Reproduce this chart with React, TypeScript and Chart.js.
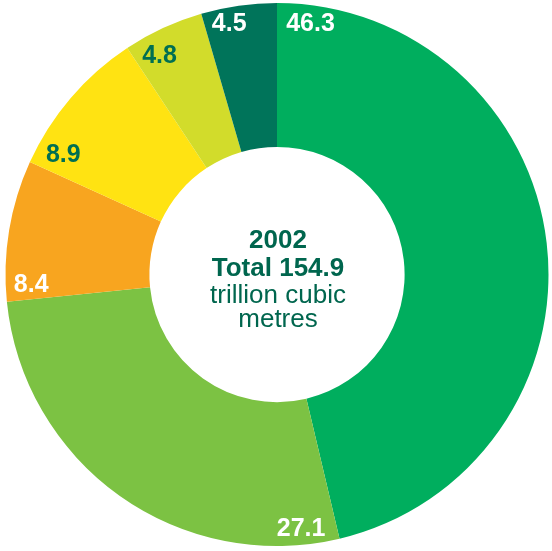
import React, { useEffect, useRef } from "react";
import { Chart, registerables } from "chart.js";

Chart.register(...registerables);

const categories = ["A", "B", "C", "D", "E", "F"];
const shares = [46.3, 27.1, 8.4, 8.9, 4.8, 4.5];
const labels = ["46.3", "27.1", "8.4", "8.9", "4.8", "4.5"];
const colors = ["#00ae5e", "#7cc243", "#f8a51f", "#ffe312", "#d2dc2b", "#00745a"];
const labelColors = ["#ffffff", "#ffffff", "#ffffff", "#006f52", "#006f52", "#ffffff"];
const centerLines = ["2002", "Total 154.9", "trillion cubic", "metres"];

// label placement: angular offset (deg) after segment start, radius (px)
const labelOffsetDeg = [7.6, 7.9, 3.4, 4.8, 5.2, 5.4];
const labelRadius = [253, 255.6, 246, 245, 248, 255];

const labelPlugin = {
  id: "segLabels",
  afterDatasetsDraw(chart: any) {
    const ctx = chart.ctx;
    const meta = chart.getDatasetMeta(0);
    ctx.save();
    ctx.font = "bold 25px 'Liberation Sans', Arial, sans-serif";
    ctx.textAlign = "center";
    ctx.textBaseline = "middle";
    meta.data.forEach((arc: any, i: number) => {
      const a = arc.startAngle + (labelOffsetDeg[i] * Math.PI) / 180;
      const r = labelRadius[i];
      const x = arc.x + Math.cos(a) * r;
      const y = arc.y + Math.sin(a) * r;
      ctx.fillStyle = labelColors[i];
      ctx.fillText(labels[i], x, y);
    });
    // center text
    const cx = meta.data[0].x;
    const cy = meta.data[0].y;
    ctx.fillStyle = "#00664e";
    ctx.textBaseline = "alphabetic";
    const fonts = [
      "bold 26px 'Liberation Sans', Arial, sans-serif",
      "bold 26px 'Liberation Sans', Arial, sans-serif",
      "26px 'Liberation Sans', Arial, sans-serif",
      "26px 'Liberation Sans', Arial, sans-serif",
    ];
    const baselines = [-26.2, 1.5, 28.8, 52.5];
    centerLines.forEach((t, i) => {
      ctx.font = fonts[i];
      ctx.fillText(t, cx + 1, cy + baselines[i]);
    });
    ctx.restore();
  },
};

export default function App() {
  const ref = useRef<HTMLCanvasElement>(null);
  useEffect(() => {
    if (!ref.current) return;
    const chart = new Chart(ref.current, {
      type: "doughnut",
      data: {
        labels: categories,
        datasets: [
          {
            data: shares,
            backgroundColor: colors,
            borderWidth: 0,
          },
        ],
      },
      options: {
        animation: false,
        responsive: false,
        cutout: "47%",
        layout: { padding: { left: 5, right: 3, top: 3, bottom: 5 } },
        plugins: {
          legend: { display: false },
          tooltip: { enabled: false },
        },
      },
      plugins: [labelPlugin],
    });
    return () => chart.destroy();
  }, []);
  return (
    <div style={{ position: "absolute", left: 0, top: 0, width: 552, height: 551, background: "#fff" }}>
      <canvas ref={ref} width={552} height={551} style={{ display: "block" }} />
    </div>
  );
}
